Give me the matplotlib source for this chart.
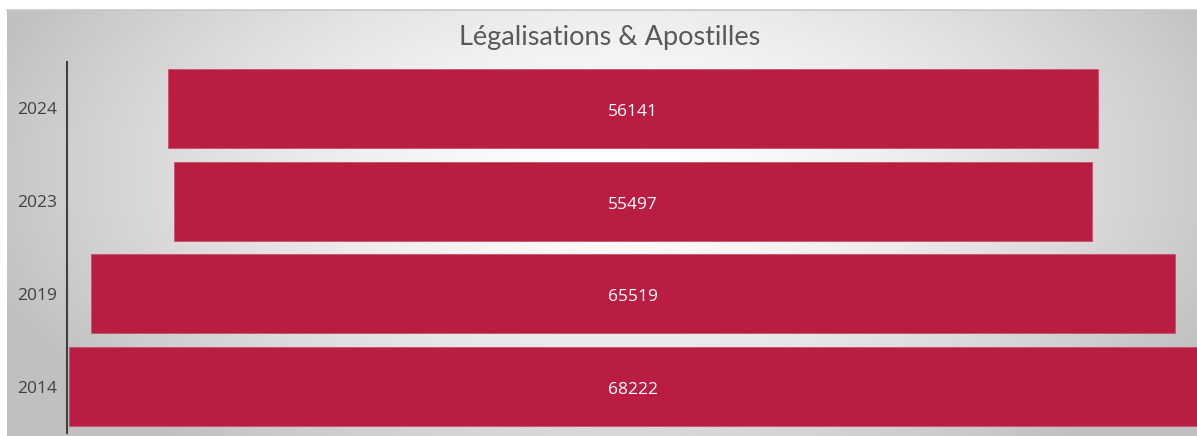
import numpy as np
import matplotlib
matplotlib.use("Agg")
import matplotlib.pyplot as plt
from matplotlib.transforms import offset_copy

years = ["2014", "2019", "2023", "2024"]
values = [68222, 65519, 55497, 56141]
title = "Légalisations & Apostilles"

W, H = 1197, 436
fig = plt.figure(figsize=(W / 100, H / 100), dpi=100)
fig.patch.set_facecolor("white")

# background radial gradient
bg = fig.add_axes([7 / W, 0, (W - 7) / W, (H - 10) / H])
bw, bh = W - 7, H - 10
xx, yy = np.meshgrid(np.arange(bw) + 7, np.arange(bh) + 10)
cx, cy, rx, ry = 620, 170, 660, 360
d = np.sqrt(((xx - cx) / rx) ** 2 + ((yy - cy) / ry) ** 2)
t = np.clip(d, 0, 1) ** 1.5
c0, c1 = 1.0, 0.755
img = c0 * (1 - t) + c1 * t
bg.imshow(np.dstack([img, img, img]), aspect="auto", extent=[0, 1, 0, 1], origin="upper")
bg.axis("off")
fig.add_artist(plt.Line2D([7 / W, 1], [1 - 10.5 / H, 1 - 10.5 / H], color="#c8c8c8", lw=1.2, transform=fig.transFigure))

# main axes
left_px, top_px, bot_px = 67, 62, 433
center_px = 633
half = center_px - left_px
ax = fig.add_axes([left_px / W, 1 - bot_px / H, 2 * half / W, (bot_px - top_px) / H])
ax.patch.set_alpha(0)
L = max(values) / 2 * half / 564.5
ax.set_xlim(-L, L)
ax.set_ylim(-0.5, len(years) - 0.5)

ypos = np.arange(len(years))
ax.barh(ypos, values, left=[-v / 2 for v in values], height=0.85,
        color="#B91E42", edgecolor="#c9506c", linewidth=0.6)
tr = offset_copy(ax.transData, fig=fig, x=0, y=-3.5, units="dots")
for y, v in zip(ypos, values):
    ax.text(0, y, str(v), ha="center", va="center", color="white",
            fontsize=12.5, family="Open Sans", transform=tr)

ax.set_yticks(ypos)
ax.set_yticklabels(years, fontsize=12.5, family="Open Sans", color="#404040")
for lab in ax.get_yticklabels():
    lab.set_transform(lab.get_transform() + matplotlib.transforms.ScaledTranslation(0, -2 / 100, fig.dpi_scale_trans))
ax.tick_params(axis="y", length=0, pad=7)
ax.set_xticks([])
for s in ["top", "right", "bottom"]:
    ax.spines[s].set_visible(False)
ax.spines["left"].set_color("#404040")
ax.spines["left"].set_linewidth(1.5)

fig.text(610 / W, 1 - 38 / H, title, ha="center", va="center",
         fontsize=19.5, family="Lato", color="#595959")

fig.savefig("out.png", dpi=100)
